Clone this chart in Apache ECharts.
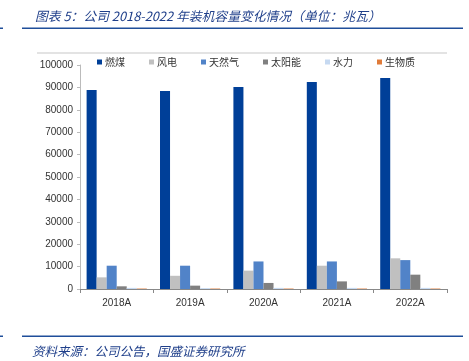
<!DOCTYPE html>
<html><head><meta charset="utf-8">
<script src="https://cdn.jsdelivr.net/npm/echarts@6/dist/echarts.min.js"></script>
<style>html,body{margin:0;padding:0;background:#fff}#c{width:469px;height:361px}</style>
</head><body><div id="c"></div>
<script>
const categories = ['2018A','2019A','2020A','2021A','2022A'];
const seriesNames = ['燃煤','风电','天然气','太阳能','水力','生物质'];
const coal    = [88800, 88400, 90200, 92400, 94200];
const wind    = [5200, 5900, 8200, 10400, 13700];
const gas     = [10400, 10400, 12300, 12300, 12900];
const solar   = [1200, 1500, 2700, 3400, 6400];
const hydro   = [500, 400, 500, 500, 500];
const biomass = [200, 200, 200, 200, 200];
const yTicks = [0,10000,20000,30000,40000,50000,60000,70000,80000,90000,100000];
const colors = ['#003f98','#c0c0c0','#5183c8','#808080','#c6d9f1','#e07b39'];
const values = [coal, wind, gas, solar, hydro, biomass];

const chart = echarts.init(document.getElementById('c'));
const cjk = '"Noto Sans CJK SC", sans-serif';
chart.setOption({
  animation: false,
  color: colors,
  title: {
    text: '图表 5：公司 2018-2022 年装机容量变化情况（单位：兆瓦）',
    left: 30, top: 5,
    textStyle: {fontFamily: cjk, fontSize: 12.8, fontStyle: 'italic', fontWeight: 'normal', color: '#1f3f8a'}
  },
  legend: {
    data: seriesNames,
    left: 92, top: 52,
    itemWidth: 5, itemHeight: 5, itemGap: 24,
    icon: 'rect',
    textStyle: {fontFamily: cjk, fontSize: 10, color: '#333', padding: [0,0,0,-2]}
  },
  grid: {left: 80, right: 22, top: 65, bottom: 72},
  xAxis: {
    type: 'category', data: categories,
    axisLine: {lineStyle: {color: '#888'}},
    axisTick: {show: true, length: 4, lineStyle: {color: '#888'}},
    axisLabel: {fontFamily: 'Liberation Sans, Arial', fontSize: 10, color: '#333', margin: 9}
  },
  yAxis: {
    type: 'value', min: 0, max: 100000, interval: 10000,
    axisLine: {show: true, lineStyle: {color: '#bbb'}},
    axisTick: {show: true, length: 3, lineStyle: {color: '#bbb'}},
    splitLine: {show: false},
    axisLabel: {fontFamily: 'Liberation Sans, Arial', fontSize: 10, color: '#333', margin: 7,
      formatter: v => yTicks.includes(v) ? String(v) : ''}
  },
  series: seriesNames.map((n, i) => ({
    name: n, type: 'bar', data: values[i],
    barGap: '0%', barCategoryGap: '18%',
    itemStyle: {color: colors[i]}
  })),
  graphic: [
    {type: 'rect', shape: {x: 22, y: 27.5, width: 441, height: 1.5}, style: {fill: '#1f4e9a'}},
    {type: 'rect', shape: {x: 0, y: 27.5, width: 3, height: 1.5}, style: {fill: '#1f4e9a'}},
    {type: 'rect', shape: {x: 37, y: 52.5, width: 410, height: 1}, style: {fill: '#c8c8c8'}},
    {type: 'rect', shape: {x: 22, y: 335.5, width: 441, height: 1.5}, style: {fill: '#1f4e9a'}},
    {type: 'rect', shape: {x: 0, y: 335.5, width: 3, height: 1.5}, style: {fill: '#1f4e9a'}},
    {type: 'text', left: 32, top: 345, style: {text: '资料来源：公司公告，国盛证券研究所', font: 'italic 12.5px "Noto Sans CJK SC", sans-serif', fill: '#1f3f8a'}}
  ]
});
</script></body></html>
